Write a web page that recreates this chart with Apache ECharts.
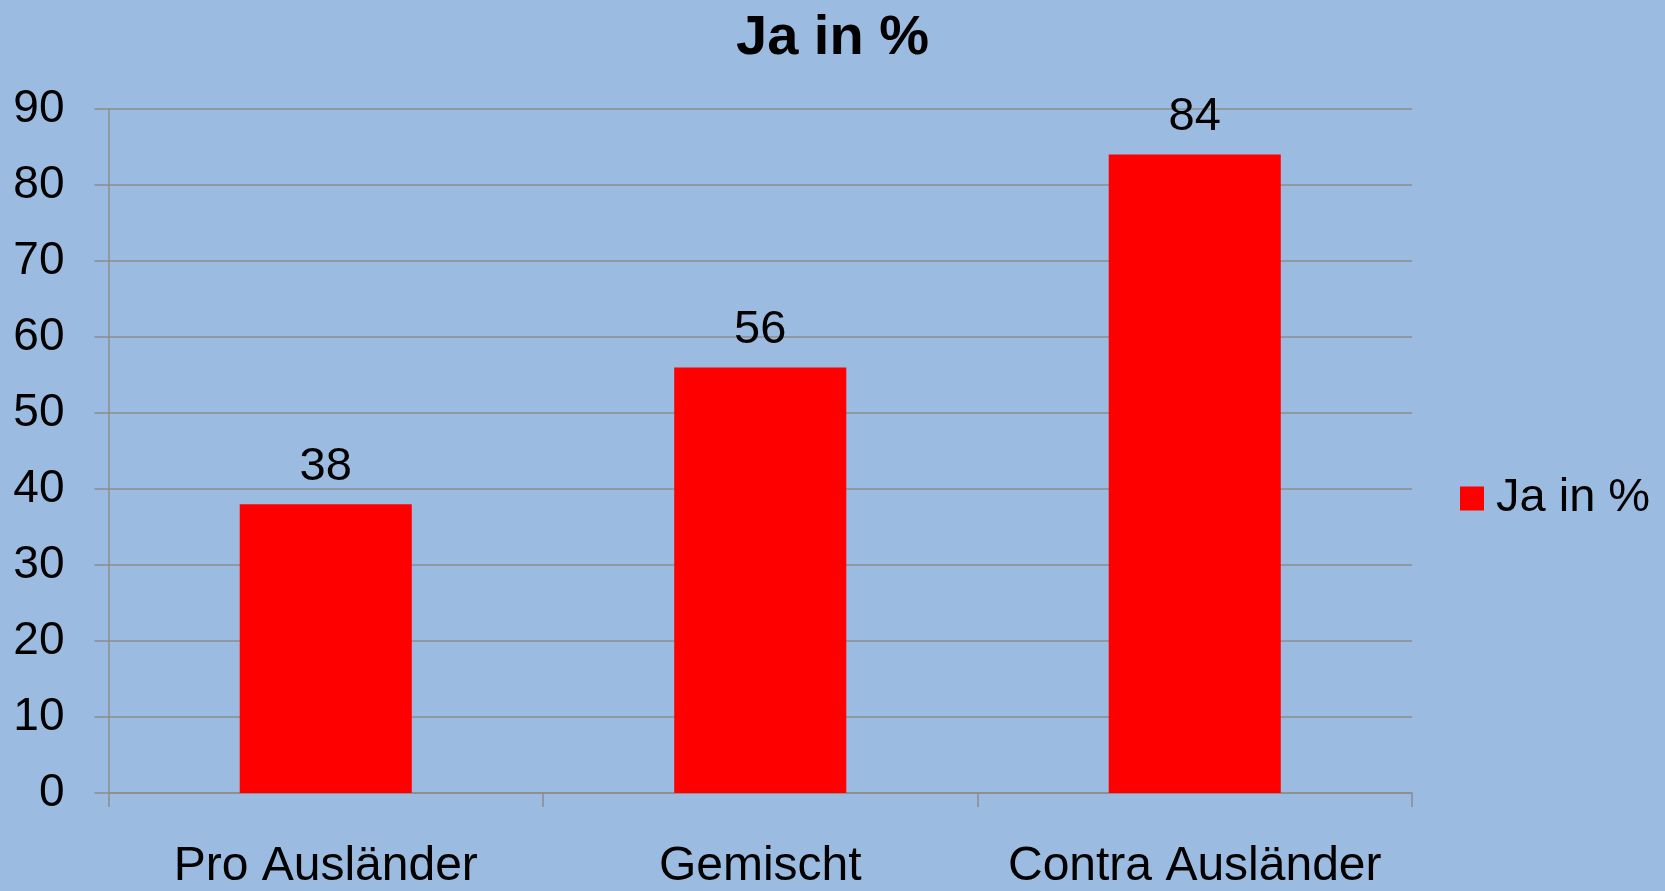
<!DOCTYPE html>
<html>
<head>
<meta charset="utf-8">
<script src="https://cdn.jsdelivr.net/npm/echarts@6/dist/echarts.min.js"></script>
<style>
html,body{margin:0;padding:0;background:#9bbce0;}
#container{width:1665px;height:891px;}
</style>
</head>
<body>
<div id="container"></div>
<script>
var categories = ['Pro Ausländer', 'Gemischt', 'Contra Ausländer'];
var jaValues = [38, 56, 84];
var seriesName = 'Ja in %';

var myChart = echarts.init(document.getElementById('container'));
var option = {
    backgroundColor: '#9bbce0',
    textStyle: { fontFamily: 'Liberation Sans, Arial, sans-serif' },
    title: {
        text: 'Ja in %',
        left: 'center',
        top: 6,
        textStyle: { fontSize: 56, fontWeight: 'bold', color: '#000', fontFamily: 'Liberation Sans, Arial, sans-serif' }
    },
    legend: {
        data: [seriesName],
        left: 1455,
        top: 470,
        icon: 'rect',
        itemWidth: 24,
        itemHeight: 24,
        textStyle: { fontSize: 47, color: '#000', padding: [0, 0, 0, 7] }
    },
    grid: { left: 108.5, right: 253, top: 109, bottom: 93, containLabel: false },
    xAxis: {
        type: 'category',
        data: categories,
        axisLine: { lineStyle: { color: '#8c8c8c', width: 1.5 } },
        axisTick: { show: true, length: 14, lineStyle: { color: '#8c8c8c', width: 1.5 } },
        axisLabel: { color: '#000', fontSize: 48, margin: 50, interval: 0 }
    },
    yAxis: {
        type: 'value',
        min: 0,
        max: 90,
        interval: 10,
        axisLine: { show: true, lineStyle: { color: '#8c8c8c', width: 1.5 } },
        axisTick: { show: true, length: 14, lineStyle: { color: '#8c8c8c', width: 1.5 } },
        axisLabel: { color: '#000', fontSize: 46, margin: 44 },
        splitLine: { lineStyle: { color: '#8c8c8c', width: 1.5 } }
    },
    series: [{
        name: seriesName,
        type: 'bar',
        data: jaValues,
        barWidth: '39.6%',
        itemStyle: { color: '#ff0000' },
        label: { show: true, position: 'top', distance: 14, color: '#000', fontSize: 47 }
    }]
};
myChart.setOption(option);
</script>
</body>
</html>
